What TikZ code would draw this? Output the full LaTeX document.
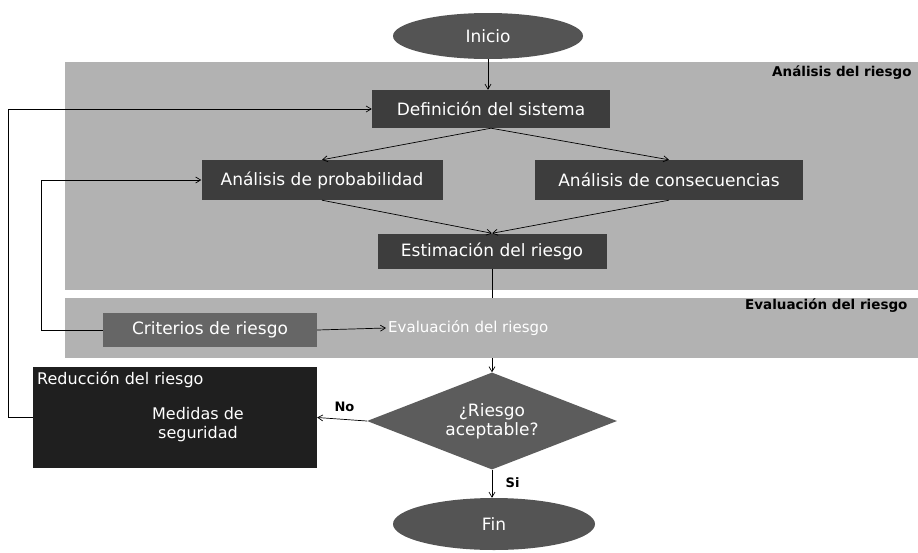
\documentclass[tikz,border=0pt]{standalone}
\usepackage{fontspec}
\setmainfont{DejaVu Sans}
\usetikzlibrary{shapes.geometric,arrows.meta}
\definecolor{bandgray}{gray}{0.70}
\definecolor{boxgray}{gray}{0.24}
\definecolor{ellgray}{gray}{0.33}
\definecolor{critgray}{gray}{0.40}
\definecolor{redgray}{gray}{0.12}
\definecolor{diagray}{gray}{0.36}
\newcommand{\boxfont}{\fontsize{17}{19}\selectfont}
\begin{document}
\begin{tikzpicture}[x=1pt,y=-1pt,
  band/.style={rectangle,fill=bandgray,draw=none,inner sep=0pt},
  bandlabel/.style={font=\bfseries\fontsize{13.5}{15}\selectfont,text=black,inner sep=0pt},
  darkbox/.style={rectangle,fill=boxgray,text=white,font=\boxfont,inner sep=0pt},
  term/.style={ellipse,fill=ellgray,text=white,font=\boxfont,inner sep=0pt},
  arr/.style={-{Straight Barb[length=5pt,width=6pt]},line width=0.7pt,black},
  conn/.style={line width=0.7pt,black},
  lbl/.style={font=\bfseries\fontsize{13}{15}\selectfont,text=black}]
\useasboundingbox (0,0) rectangle (918,552);
\fill[white] (0,0) rectangle (918,552);
% bands
\node[band,minimum width=853pt,minimum height=228pt,anchor=north west] (banda) at (65,62) {};
\node[band,minimum width=853pt,minimum height=60pt,anchor=north west] (bandb) at (65,298) {};
\node[bandlabel,anchor=west] (la) at (772,73) {Análisis del riesgo};
\node[bandlabel,anchor=west] (lb) at (745,306) {Evaluación del riesgo};
% nodes
\node[term,minimum width=190pt,minimum height=46pt] (ini) at (488,36) {Inicio};
\node[darkbox,minimum width=238pt,minimum height=38pt] (def) at (491,109) {Definición del sistema};
\node[darkbox,minimum width=241pt,minimum height=40pt] (prob) at (322,180) {Análisis de probabilidad};
\node[darkbox,minimum width=268pt,minimum height=40pt] (cons) at (669,180) {Análisis de consecuencias};
\node[darkbox,minimum width=229pt,minimum height=35pt] (est) at (492,251) {Estimación del riesgo};
\node[darkbox,fill=critgray,minimum width=214pt,minimum height=34pt] (crit) at (210,330) {Criterios de riesgo};
\node[rectangle,text=white,font=\fontsize{15}{17}\selectfont,inner sep=2pt,anchor=west] (eval) at (386,328) {Evaluación del riesgo};
\node[diamond,aspect=2.58,fill=diagray,text=white,font=\boxfont,minimum width=250pt,minimum height=97pt,inner sep=0pt,align=center] (dia) at (492,421) {¿Riesgo\\aceptable?};
\node[rectangle,fill=redgray,minimum width=284pt,minimum height=101pt,inner sep=0pt] (red) at (175,417.5) {};
\node[text=white,font=\fontsize{16}{18}\selectfont,anchor=north west,inner sep=0pt] (redt) at (37,371) {Reducción del riesgo};
\node[text=white,font=\fontsize{16}{19}\selectfont,align=center,inner sep=0pt] (med) at (198,425) {Medidas de\\seguridad};
\node[term,minimum width=202pt,minimum height=52pt] (fin) at (494,524) {Fin};
% connectors
\draw[arr] (ini.south) -- (ini.south |- def.north);
\draw[arr] (def.south) -- (prob.north);
\draw[arr] (def.south) -- (cons.north);
\draw[arr] (prob.south) -- (est.north);
\draw[arr] (cons.south) -- (est.north);
\draw[conn] (est.south) -- (est.south |- bandb.north);
\draw[arr] (est.south |- bandb.south) -- (dia.north);
\draw[arr] (crit.east) -- (eval.west);
\draw[arr] (dia.west) -- node[lbl,above=4pt,pos=0.45] (no) {No} (red.east);
\draw[arr] (dia.south) -- node[lbl,right=10pt,pos=0.45] (si) {Si} (dia.south |- fin.north);
\draw[arr] (red.west) -- ++(-24,0) |- (def.west);
\draw[arr] (crit.west) -- ++(-61,0) |- (prob.west);
\end{tikzpicture}
\end{document}
